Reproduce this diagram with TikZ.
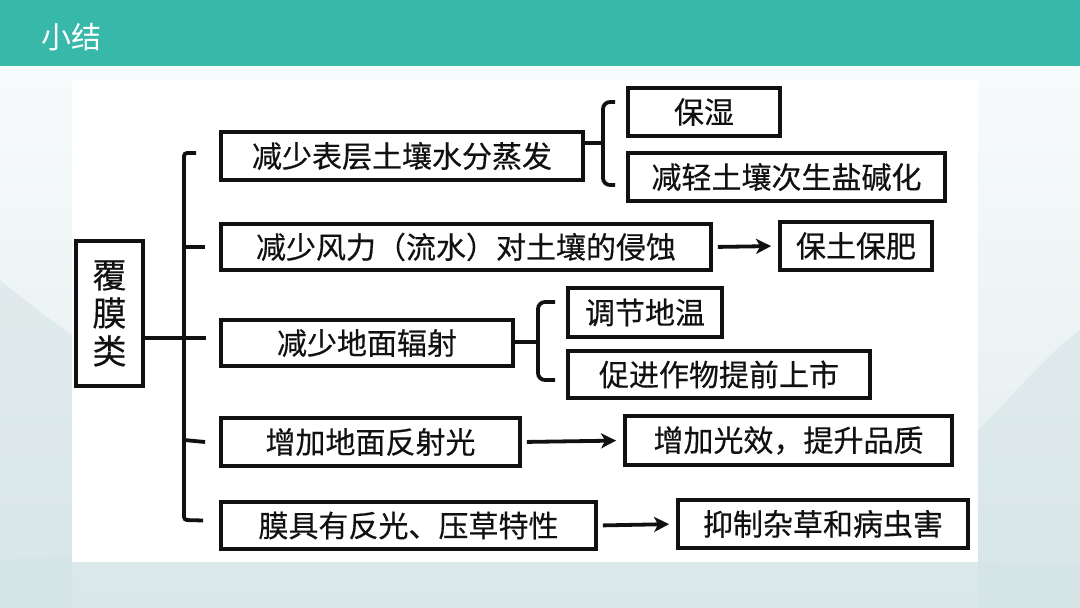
\documentclass[tikz,border=0pt]{standalone}
\usepackage{fontspec}
\newfontfamily\cjk[FakeBold=0.4]{Noto Sans CJK SC}
\newfontfamily\cjktitle{Noto Sans CJK SC}
\usetikzlibrary{arrows.meta,calc}
\definecolor{teal}{HTML}{37B8A8}
\definecolor{bgtop}{HTML}{F8FBFB}
\definecolor{bgbot}{HTML}{E0EBEC}
\definecolor{mount}{HTML}{CFE0E2}
\definecolor{ink}{HTML}{111111}
\tikzset{
  box/.style={draw=ink, line width=3.8pt, rectangle, inner sep=0pt, font=\cjk\fontsize{30}{34}\selectfont, text=ink},
  conn/.style={draw=ink, line width=3.8pt},
  arr/.style={conn, -{Stealth[length=15pt,width=15pt,inset=4pt]}, shorten <=5pt, shorten >=7pt},
  brk/.style={conn, rounded corners=7pt},
}
\begin{document}
\begin{tikzpicture}[x=1pt,y=-1pt]
\useasboundingbox (0,0) rectangle (1080,608);
% background
\shade[top color=bgtop, bottom color=bgbot] (0,66) rectangle (1080,608);
\fill[mount, opacity=0.45] (0,280) .. controls (25,300) and (50,320) .. (72,335) -- (72,608) -- (0,608) -- cycle;
\fill[mount, opacity=0.45] (1080,330) .. controls (1040,360) and (1010,400) .. (978,430) -- (978,608) -- (1080,608) -- cycle;
\fill[mount, opacity=0.3] (0,560) .. controls (300,550) and (700,555) .. (1080,565) -- (1080,608) -- (0,608) -- cycle;
% header
\fill[teal] (0,0) rectangle (1080,66);
\node[font=\cjktitle\fontsize{30}{32}\selectfont, text=white, anchor=west] (title) at (38,37) {小结};
% white panel
\fill[white] (72,80) rectangle (978,562);
% nodes
\node[box, minimum width=67pt, minimum height=145pt, align=center, font=\cjk\fontsize{34}{38}\selectfont] (M) at (109.5,313.5) {覆\\膜\\类};
\node[box, minimum width=362pt, minimum height=48pt] (A) at (402,156) {减少表层土壤水分蒸发};
\node[box, minimum width=152pt, minimum height=48pt] (A1) at (704,112) {保湿};
\node[box, minimum width=317pt, minimum height=48pt] (A2) at (786.5,177) {减轻土壤次生盐碱化};
\node[box, minimum width=490pt, minimum height=46pt] (B) at (466,247) {减少风力（流水）对土壤的侵蚀};
\node[box, minimum width=152pt, minimum height=48pt] (B1) at (856,246) {保土保肥};
\node[box, minimum width=292pt, minimum height=46pt] (C) at (367,343) {减少地面辐射};
\node[box, minimum width=154pt, minimum height=49pt] (C1) at (645,312.5) {调节地温};
\node[box, minimum width=302pt, minimum height=47pt] (C2) at (719,374.5) {促进作物提前上市};
\node[box, minimum width=299pt, minimum height=48pt] (D) at (370.5,442) {增加地面反射光};
\node[box, minimum width=327pt, minimum height=49pt] (D1) at (788.5,440.5) {增加光效，提升品质};
\node[box, minimum width=375pt, minimum height=47pt] (E) at (408.5,525.5) {膜具有反光、压草特性};
\node[box, minimum width=290pt, minimum height=48pt] (E1) at (823,524) {抑制杂草和病虫害};
% trunk
\coordinate (tA) at ($(A.west)+(-23,-3)$);
\coordinate (tE) at ($(E.west)+(-16,-5)$);
\draw[brk, rounded corners=3pt] (tA) -- (184,153) -- (184,520) -- (tE);
\draw[conn] (184,247) -- ([xshift=-14pt]B.west);
\draw[conn] (184,440) -- ([xshift=-14pt]D.west);
\coordinate (mj) at (M.east |- 0,338);
\draw[conn] (mj) -- ([xshift=-13pt]C.west |- 0,338);
% bracket A
\coordinate (bA) at (603,143);
\draw[conn] (A.east |- bA) -- (bA);
\draw[brk] (615,102) -- (603,102) -- (603,185) -- (615,185);
% bracket C
\coordinate (bC) at (538,342);
\draw[conn] (C.east |- bC) -- (bC);
\draw[brk] (555,302) -- (538,302) -- (538,380) -- (555,380);
% arrows
\draw[arr] (B.east) -- (B1.west);
\draw[arr] (D.east) -- (D1.west);
\draw[arr] (E.east) -- (E1.west);
\end{tikzpicture}
\end{document}
